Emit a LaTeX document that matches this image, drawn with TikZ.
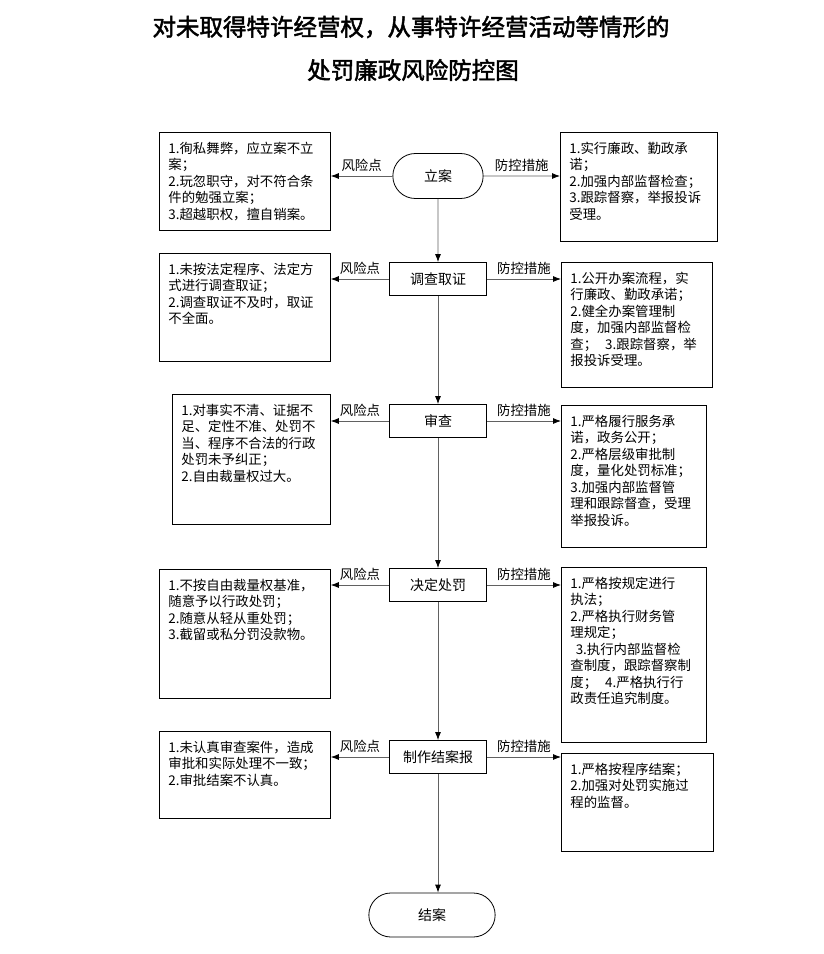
\documentclass[tikz,border=0pt]{standalone}
\usepackage{fontspec}
\setmainfont{Noto Sans CJK SC}[AutoFakeBold=2]
\usepackage{tikz}
\usetikzlibrary{positioning,calc,arrows.meta,shapes.misc}
\definecolor{linegray}{rgb}{0.38,0.38,0.38}
\newcommand{\boxfont}{\fontsize{13.4}{16.5}\selectfont}
\newcommand{\stepfont}{\fontsize{14}{17}\selectfont}
\newcommand{\titlefont}{\fontsize{23.5}{30}\selectfont\bfseries}

\begin{document}
\begin{tikzpicture}[x=1pt,y=-1pt,edge/.style = {-{Latex[length=8pt,width=6pt,color=black]},color=linegray,line width=0.8pt},
pill/.style={rounded rectangle,draw,line width=0.8pt,minimum width=97pt,minimum height=45pt,font=\stepfont},
stepbox/.style={rectangle,draw,line width=0.8pt,minimum width=97pt,minimum height=33pt,font=\stepfont},
textbox/.style={draw,line width=0.8pt,anchor=north west,align=left,font=\boxfont,inner xsep=9pt,inner ysep=3pt,text height=18pt},
tag/.style={font=\boxfont,text=black,above=1pt}]
\useasboundingbox (0,0) rectangle (823,954);

% title
\node[font=\titlefont] (title1) at (411,27) {对未取得特许经营权，从事特许经营活动等情形的};
\node[font=\titlefont] (title2) at (413,70) {处罚廉政风险防控图};

% steps
\node[pill] (lian) at (438,176) {立案};
\node[stepbox] (diaocha) at (438,279) {调查取证};
\node[stepbox] (shencha) at (438,421) {审查};
\node[stepbox] (jueding) at (438,585) {决定处罚};
\node[stepbox] (zhizuo) at (438,757) {制作结案报};
\node[pill,minimum width=133pt,minimum height=44pt] (jiean) at (432,915) {结案};

% risks
\node[textbox,text width=153pt,text depth=74pt] (risk1) at (159,132) {1.徇私舞弊，应立案不立\\案；\\2.玩忽职守，对不符合条\\件的勉强立案；\\3.超越职权，擅自销案。};
\node[textbox,text width=153pt,text depth=84pt] (risk2) at (159,253) {1.未按法定程序、法定方\\式进行调查取证；\\2.调查取证不及时，取证\\不全面。};
\node[textbox,text width=140pt,text depth=106pt] (risk3) at (172,394) {1.对事实不清、证据不\\足、定性不准、处罚不\\当、程序不合法的行政\\处罚未予纠正；\\2.自由裁量权过大。};
\node[textbox,text width=153pt,text depth=105pt] (risk4) at (159,569) {1.不按自由裁量权基准，\\随意予以行政处罚；\\2.随意从轻从重处罚；\\3.截留或私分罚没款物。};
\node[textbox,text width=153pt,text depth=63pt] (risk5) at (159,731) {1.未认真审查案件，造成\\审批和实际处理不一致；\\2.审批结案不认真。};

% measures
\node[textbox,text width=139pt,text depth=85pt] (ctrl1) at (560,132) {1.实行廉政、勤政承\\诺；\\2.加强内部监督检查；\\3.跟踪督察，举报投诉\\受理。};
\node[textbox,text width=133pt,text depth=101pt] (ctrl2) at (561,262) {1.公开办案流程，实\\行廉政、勤政承诺；\\2.健全办案管理制\\度，加强内部监督检\\查；\hspace{0.6em}3.跟踪督察，举\\报投诉受理。};
\node[textbox,text width=127pt,text depth=118pt] (ctrl3) at (561,405) {1.严格履行服务承\\诺，政务公开；\\2.严格层级审批制\\度，量化处罚标准；\\3.加强内部监督管\\理和跟踪督查，受理\\举报投诉。};
\node[textbox,text width=127pt,text depth=151pt] (ctrl4) at (561,567) {1.严格按规定进行\\执法；\\2.严格执行财务管\\理规定；\\\hspace*{0.4em}3.执行内部监督检\\查制度，跟踪督察制\\度；\hspace{0.6em}4.严格执行行\\政责任追究制度。};
\node[textbox,text width=134pt,text depth=74pt] (ctrl5) at (561,753) {1.严格按程序结案；\\2.加强对处罚实施过\\程的监督。};

% main line
\draw[edge] (lian) -- (diaocha);
\draw[edge] (diaocha) -- (shencha);
\draw[edge] (shencha) -- (jueding);
\draw[edge] (jueding) -- (zhizuo);
\draw[edge] (zhizuo) -- (zhizuo |- jiean.north);

% risk points and control measures
\draw[edge] (lian) -- (lian -| risk1.east) node [tag,midway] {风险点};
\draw[edge] (lian) -- (lian -| ctrl1.west) node [tag,midway] {防控措施};
\draw[edge] (diaocha) -- (diaocha -| risk2.east) node [tag,midway] {风险点};
\draw[edge] (diaocha) -- (diaocha -| ctrl2.west) node [tag,midway] {防控措施};
\draw[edge] (shencha) -- (shencha -| risk3.east) node [tag,midway] {风险点};
\draw[edge] (shencha) -- (shencha -| ctrl3.west) node [tag,midway] {防控措施};
\draw[edge] (jueding) -- (jueding -| risk4.east) node [tag,midway] {风险点};
\draw[edge] (jueding) -- (jueding -| ctrl4.west) node [tag,midway] {防控措施};
\draw[edge] (zhizuo) -- (zhizuo -| risk5.east) node [tag,midway] {风险点};
\draw[edge] (zhizuo) -- (zhizuo -| ctrl5.west) node [tag,midway] {防控措施};
\end{tikzpicture}
\end{document}
